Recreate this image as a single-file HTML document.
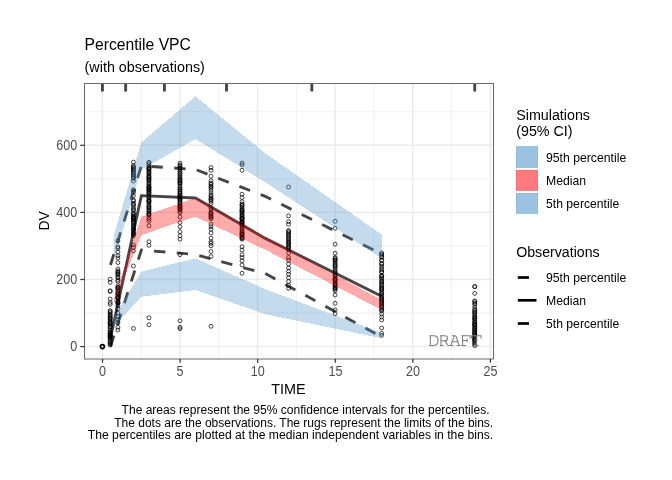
<!DOCTYPE html>
<html><head><meta charset="utf-8"><title>Percentile VPC</title>
<style>
html,body{margin:0;padding:0;background:#fff;}
body{width:672px;height:480px;overflow:hidden;position:relative;font-family:"Liberation Sans",sans-serif;}
</style></head><body>
<svg width="672" height="480" viewBox="0 0 672 480" style="position:absolute;left:0;top:0;will-change:transform;font-family:'Liberation Sans',sans-serif">
<rect x="0" y="0" width="672" height="480" fill="#fff"/>
<g shape-rendering="auto">
<rect x="84.5" y="83.5" width="409" height="275" fill="#fff"/>
<line x1="141.19" x2="141.19" y1="83.5" y2="358.5" stroke="#ebebeb" stroke-width="0.75"/>
<line x1="218.75" x2="218.75" y1="83.5" y2="358.5" stroke="#ebebeb" stroke-width="0.75"/>
<line x1="296.32" x2="296.32" y1="83.5" y2="358.5" stroke="#ebebeb" stroke-width="0.75"/>
<line x1="373.89" x2="373.89" y1="83.5" y2="358.5" stroke="#ebebeb" stroke-width="0.75"/>
<line x1="451.47" x2="451.47" y1="83.5" y2="358.5" stroke="#ebebeb" stroke-width="0.75"/>
<line x1="84.5" x2="493.5" y1="313.05" y2="313.05" stroke="#ebebeb" stroke-width="0.75"/>
<line x1="84.5" x2="493.5" y1="245.95" y2="245.95" stroke="#ebebeb" stroke-width="0.75"/>
<line x1="84.5" x2="493.5" y1="178.85" y2="178.85" stroke="#ebebeb" stroke-width="0.75"/>
<line x1="84.5" x2="493.5" y1="111.75" y2="111.75" stroke="#ebebeb" stroke-width="0.75"/>
<line x1="102.40" x2="102.40" y1="83.5" y2="358.5" stroke="#ebebeb" stroke-width="1.4"/>
<line x1="179.97" x2="179.97" y1="83.5" y2="358.5" stroke="#ebebeb" stroke-width="1.4"/>
<line x1="257.54" x2="257.54" y1="83.5" y2="358.5" stroke="#ebebeb" stroke-width="1.4"/>
<line x1="335.11" x2="335.11" y1="83.5" y2="358.5" stroke="#ebebeb" stroke-width="1.4"/>
<line x1="412.68" x2="412.68" y1="83.5" y2="358.5" stroke="#ebebeb" stroke-width="1.4"/>
<line x1="490.25" x2="490.25" y1="83.5" y2="358.5" stroke="#ebebeb" stroke-width="1.4"/>
<line x1="84.5" x2="493.5" y1="346.60" y2="346.60" stroke="#ebebeb" stroke-width="1.4"/>
<line x1="84.5" x2="493.5" y1="279.50" y2="279.50" stroke="#ebebeb" stroke-width="1.4"/>
<line x1="84.5" x2="493.5" y1="212.40" y2="212.40" stroke="#ebebeb" stroke-width="1.4"/>
<line x1="84.5" x2="493.5" y1="145.30" y2="145.30" stroke="#ebebeb" stroke-width="1.4"/>
</g>
<clipPath id="cp"><rect x="84.5" y="83.5" width="409" height="275"/></clipPath>
<g clip-path="url(#cp)">
<g fill="none" stroke="#000" stroke-opacity="0.85" stroke-width="0.85">
<circle cx="102.40" cy="346.60" r="1.95"/>
<circle cx="110.16" cy="279.25" r="1.95"/>
<circle cx="110.16" cy="282.40" r="1.95"/>
<circle cx="110.16" cy="290.75" r="1.95"/>
<circle cx="110.16" cy="291.50" r="1.95"/>
<circle cx="110.16" cy="299.00" r="1.95"/>
<circle cx="110.16" cy="302.50" r="1.95"/>
<circle cx="110.16" cy="304.40" r="1.95"/>
<circle cx="110.16" cy="310.60" r="1.95"/>
<circle cx="110.16" cy="311.58" r="1.95"/>
<circle cx="110.16" cy="312.72" r="1.95"/>
<circle cx="110.16" cy="314.39" r="1.95"/>
<circle cx="110.16" cy="315.39" r="1.95"/>
<circle cx="110.16" cy="316.45" r="1.95"/>
<circle cx="110.16" cy="317.63" r="1.95"/>
<circle cx="110.16" cy="318.22" r="1.95"/>
<circle cx="110.16" cy="319.28" r="1.95"/>
<circle cx="110.16" cy="320.53" r="1.95"/>
<circle cx="110.16" cy="322.01" r="1.95"/>
<circle cx="110.16" cy="322.46" r="1.95"/>
<circle cx="110.16" cy="323.22" r="1.95"/>
<circle cx="110.16" cy="323.67" r="1.95"/>
<circle cx="110.16" cy="325.17" r="1.95"/>
<circle cx="110.16" cy="326.51" r="1.95"/>
<circle cx="110.16" cy="326.89" r="1.95"/>
<circle cx="110.16" cy="328.64" r="1.95"/>
<circle cx="110.16" cy="330.38" r="1.95"/>
<circle cx="110.16" cy="331.65" r="1.95"/>
<circle cx="110.16" cy="332.87" r="1.95"/>
<circle cx="110.16" cy="333.42" r="1.95"/>
<circle cx="110.16" cy="333.76" r="1.95"/>
<circle cx="110.16" cy="334.85" r="1.95"/>
<circle cx="110.16" cy="335.25" r="1.95"/>
<circle cx="110.16" cy="335.85" r="1.95"/>
<circle cx="110.16" cy="336.52" r="1.95"/>
<circle cx="110.16" cy="336.88" r="1.95"/>
<circle cx="110.16" cy="337.87" r="1.95"/>
<circle cx="110.16" cy="338.84" r="1.95"/>
<circle cx="110.16" cy="340.39" r="1.95"/>
<circle cx="110.16" cy="341.47" r="1.95"/>
<circle cx="110.16" cy="342.72" r="1.95"/>
<circle cx="110.16" cy="343.77" r="1.95"/>
<circle cx="110.16" cy="345.06" r="1.95"/>
<circle cx="117.91" cy="240.75" r="1.95"/>
<circle cx="117.91" cy="246.75" r="1.95"/>
<circle cx="117.91" cy="248.27" r="1.95"/>
<circle cx="117.91" cy="252.00" r="1.95"/>
<circle cx="117.91" cy="255.73" r="1.95"/>
<circle cx="117.91" cy="258.00" r="1.95"/>
<circle cx="117.91" cy="262.60" r="1.95"/>
<circle cx="117.91" cy="268.90" r="1.95"/>
<circle cx="117.91" cy="270.84" r="1.95"/>
<circle cx="117.91" cy="271.95" r="1.95"/>
<circle cx="117.91" cy="272.88" r="1.95"/>
<circle cx="117.91" cy="273.94" r="1.95"/>
<circle cx="117.91" cy="274.54" r="1.95"/>
<circle cx="117.91" cy="276.59" r="1.95"/>
<circle cx="117.91" cy="277.89" r="1.95"/>
<circle cx="117.91" cy="280.11" r="1.95"/>
<circle cx="117.91" cy="281.37" r="1.95"/>
<circle cx="117.91" cy="285.75" r="1.95"/>
<circle cx="117.91" cy="287.31" r="1.95"/>
<circle cx="117.91" cy="287.63" r="1.95"/>
<circle cx="117.91" cy="288.25" r="1.95"/>
<circle cx="117.91" cy="289.90" r="1.95"/>
<circle cx="117.91" cy="290.91" r="1.95"/>
<circle cx="117.91" cy="292.66" r="1.95"/>
<circle cx="117.91" cy="293.56" r="1.95"/>
<circle cx="117.91" cy="293.99" r="1.95"/>
<circle cx="117.91" cy="295.23" r="1.95"/>
<circle cx="117.91" cy="296.69" r="1.95"/>
<circle cx="117.91" cy="297.40" r="1.95"/>
<circle cx="117.91" cy="297.84" r="1.95"/>
<circle cx="117.91" cy="298.64" r="1.95"/>
<circle cx="117.91" cy="300.38" r="1.95"/>
<circle cx="117.91" cy="301.81" r="1.95"/>
<circle cx="117.91" cy="302.29" r="1.95"/>
<circle cx="117.91" cy="302.97" r="1.95"/>
<circle cx="117.91" cy="303.44" r="1.95"/>
<circle cx="117.91" cy="305.60" r="1.95"/>
<circle cx="117.91" cy="308.75" r="1.95"/>
<circle cx="117.91" cy="313.00" r="1.95"/>
<circle cx="117.91" cy="316.50" r="1.95"/>
<circle cx="117.91" cy="319.50" r="1.95"/>
<circle cx="117.91" cy="322.75" r="1.95"/>
<circle cx="117.91" cy="327.25" r="1.95"/>
<circle cx="117.91" cy="330.00" r="1.95"/>
<circle cx="133.43" cy="162.10" r="1.95"/>
<circle cx="133.43" cy="165.50" r="1.95"/>
<circle cx="133.43" cy="166.99" r="1.95"/>
<circle cx="133.43" cy="167.56" r="1.95"/>
<circle cx="133.43" cy="168.70" r="1.95"/>
<circle cx="133.43" cy="169.67" r="1.95"/>
<circle cx="133.43" cy="170.27" r="1.95"/>
<circle cx="133.43" cy="172.00" r="1.95"/>
<circle cx="133.43" cy="172.73" r="1.95"/>
<circle cx="133.43" cy="174.53" r="1.95"/>
<circle cx="133.43" cy="175.22" r="1.95"/>
<circle cx="133.43" cy="176.56" r="1.95"/>
<circle cx="133.43" cy="177.45" r="1.95"/>
<circle cx="133.43" cy="178.47" r="1.95"/>
<circle cx="133.43" cy="180.96" r="1.95"/>
<circle cx="133.43" cy="189.90" r="1.95"/>
<circle cx="133.43" cy="190.50" r="1.95"/>
<circle cx="133.43" cy="192.50" r="1.95"/>
<circle cx="133.43" cy="195.80" r="1.95"/>
<circle cx="133.43" cy="200.00" r="1.95"/>
<circle cx="133.43" cy="201.09" r="1.95"/>
<circle cx="133.43" cy="203.40" r="1.95"/>
<circle cx="133.43" cy="204.29" r="1.95"/>
<circle cx="133.43" cy="205.57" r="1.95"/>
<circle cx="133.43" cy="207.81" r="1.95"/>
<circle cx="133.43" cy="209.61" r="1.95"/>
<circle cx="133.43" cy="210.27" r="1.95"/>
<circle cx="133.43" cy="212.80" r="1.95"/>
<circle cx="133.43" cy="213.70" r="1.95"/>
<circle cx="133.43" cy="214.69" r="1.95"/>
<circle cx="133.43" cy="216.00" r="1.95"/>
<circle cx="133.43" cy="216.80" r="1.95"/>
<circle cx="133.43" cy="217.55" r="1.95"/>
<circle cx="133.43" cy="217.97" r="1.95"/>
<circle cx="133.43" cy="218.42" r="1.95"/>
<circle cx="133.43" cy="219.59" r="1.95"/>
<circle cx="133.43" cy="220.26" r="1.95"/>
<circle cx="133.43" cy="221.46" r="1.95"/>
<circle cx="133.43" cy="222.32" r="1.95"/>
<circle cx="133.43" cy="223.30" r="1.95"/>
<circle cx="133.43" cy="225.03" r="1.95"/>
<circle cx="133.43" cy="226.06" r="1.95"/>
<circle cx="133.43" cy="227.22" r="1.95"/>
<circle cx="133.43" cy="228.80" r="1.95"/>
<circle cx="133.43" cy="229.39" r="1.95"/>
<circle cx="133.43" cy="229.93" r="1.95"/>
<circle cx="133.43" cy="231.58" r="1.95"/>
<circle cx="133.43" cy="233.10" r="1.95"/>
<circle cx="133.43" cy="233.78" r="1.95"/>
<circle cx="133.43" cy="234.37" r="1.95"/>
<circle cx="133.43" cy="235.77" r="1.95"/>
<circle cx="133.43" cy="245.00" r="1.95"/>
<circle cx="133.43" cy="247.50" r="1.95"/>
<circle cx="133.43" cy="250.80" r="1.95"/>
<circle cx="133.43" cy="266.00" r="1.95"/>
<circle cx="133.43" cy="328.50" r="1.95"/>
<circle cx="148.94" cy="162.30" r="1.95"/>
<circle cx="148.94" cy="162.90" r="1.95"/>
<circle cx="148.94" cy="164.62" r="1.95"/>
<circle cx="148.94" cy="166.23" r="1.95"/>
<circle cx="148.94" cy="167.43" r="1.95"/>
<circle cx="148.94" cy="168.36" r="1.95"/>
<circle cx="148.94" cy="168.83" r="1.95"/>
<circle cx="148.94" cy="169.20" r="1.95"/>
<circle cx="148.94" cy="170.93" r="1.95"/>
<circle cx="148.94" cy="171.60" r="1.95"/>
<circle cx="148.94" cy="172.95" r="1.95"/>
<circle cx="148.94" cy="173.64" r="1.95"/>
<circle cx="148.94" cy="175.17" r="1.95"/>
<circle cx="148.94" cy="176.36" r="1.95"/>
<circle cx="148.94" cy="177.11" r="1.95"/>
<circle cx="148.94" cy="177.68" r="1.95"/>
<circle cx="148.94" cy="179.05" r="1.95"/>
<circle cx="148.94" cy="179.47" r="1.95"/>
<circle cx="148.94" cy="180.12" r="1.95"/>
<circle cx="148.94" cy="181.26" r="1.95"/>
<circle cx="148.94" cy="182.83" r="1.95"/>
<circle cx="148.94" cy="184.04" r="1.95"/>
<circle cx="148.94" cy="184.77" r="1.95"/>
<circle cx="148.94" cy="186.43" r="1.95"/>
<circle cx="148.94" cy="187.05" r="1.95"/>
<circle cx="148.94" cy="187.39" r="1.95"/>
<circle cx="148.94" cy="188.10" r="1.95"/>
<circle cx="148.94" cy="189.07" r="1.95"/>
<circle cx="148.94" cy="189.47" r="1.95"/>
<circle cx="148.94" cy="190.05" r="1.95"/>
<circle cx="148.94" cy="190.90" r="1.95"/>
<circle cx="148.94" cy="192.06" r="1.95"/>
<circle cx="148.94" cy="192.57" r="1.95"/>
<circle cx="148.94" cy="193.42" r="1.95"/>
<circle cx="148.94" cy="195.04" r="1.95"/>
<circle cx="148.94" cy="196.80" r="1.95"/>
<circle cx="148.94" cy="198.08" r="1.95"/>
<circle cx="148.94" cy="199.41" r="1.95"/>
<circle cx="148.94" cy="200.58" r="1.95"/>
<circle cx="148.94" cy="201.10" r="1.95"/>
<circle cx="148.94" cy="201.47" r="1.95"/>
<circle cx="148.94" cy="201.81" r="1.95"/>
<circle cx="148.94" cy="203.47" r="1.95"/>
<circle cx="148.94" cy="204.81" r="1.95"/>
<circle cx="148.94" cy="206.54" r="1.95"/>
<circle cx="148.94" cy="206.89" r="1.95"/>
<circle cx="148.94" cy="208.14" r="1.95"/>
<circle cx="148.94" cy="209.16" r="1.95"/>
<circle cx="148.94" cy="210.55" r="1.95"/>
<circle cx="148.94" cy="211.33" r="1.95"/>
<circle cx="148.94" cy="213.12" r="1.95"/>
<circle cx="148.94" cy="213.54" r="1.95"/>
<circle cx="148.94" cy="214.66" r="1.95"/>
<circle cx="148.94" cy="215.00" r="1.95"/>
<circle cx="148.94" cy="217.34" r="1.95"/>
<circle cx="148.94" cy="219.34" r="1.95"/>
<circle cx="148.94" cy="221.27" r="1.95"/>
<circle cx="148.94" cy="225.80" r="1.95"/>
<circle cx="148.94" cy="241.70" r="1.95"/>
<circle cx="148.94" cy="245.30" r="1.95"/>
<circle cx="148.94" cy="317.75" r="1.95"/>
<circle cx="148.94" cy="324.75" r="1.95"/>
<circle cx="179.97" cy="163.20" r="1.95"/>
<circle cx="179.97" cy="164.90" r="1.95"/>
<circle cx="179.97" cy="166.00" r="1.95"/>
<circle cx="179.97" cy="167.66" r="1.95"/>
<circle cx="179.97" cy="168.49" r="1.95"/>
<circle cx="179.97" cy="169.81" r="1.95"/>
<circle cx="179.97" cy="171.45" r="1.95"/>
<circle cx="179.97" cy="173.05" r="1.95"/>
<circle cx="179.97" cy="173.98" r="1.95"/>
<circle cx="179.97" cy="175.45" r="1.95"/>
<circle cx="179.97" cy="177.04" r="1.95"/>
<circle cx="179.97" cy="178.20" r="1.95"/>
<circle cx="179.97" cy="179.43" r="1.95"/>
<circle cx="179.97" cy="180.31" r="1.95"/>
<circle cx="179.97" cy="181.48" r="1.95"/>
<circle cx="179.97" cy="182.69" r="1.95"/>
<circle cx="179.97" cy="183.12" r="1.95"/>
<circle cx="179.97" cy="184.38" r="1.95"/>
<circle cx="179.97" cy="186.15" r="1.95"/>
<circle cx="179.97" cy="187.76" r="1.95"/>
<circle cx="179.97" cy="189.14" r="1.95"/>
<circle cx="179.97" cy="190.03" r="1.95"/>
<circle cx="179.97" cy="191.43" r="1.95"/>
<circle cx="179.97" cy="192.60" r="1.95"/>
<circle cx="179.97" cy="193.56" r="1.95"/>
<circle cx="179.97" cy="195.11" r="1.95"/>
<circle cx="179.97" cy="195.54" r="1.95"/>
<circle cx="179.97" cy="196.96" r="1.95"/>
<circle cx="179.97" cy="197.32" r="1.95"/>
<circle cx="179.97" cy="198.52" r="1.95"/>
<circle cx="179.97" cy="199.54" r="1.95"/>
<circle cx="179.97" cy="200.19" r="1.95"/>
<circle cx="179.97" cy="201.54" r="1.95"/>
<circle cx="179.97" cy="202.58" r="1.95"/>
<circle cx="179.97" cy="203.80" r="1.95"/>
<circle cx="179.97" cy="205.47" r="1.95"/>
<circle cx="179.97" cy="206.16" r="1.95"/>
<circle cx="179.97" cy="206.49" r="1.95"/>
<circle cx="179.97" cy="207.25" r="1.95"/>
<circle cx="179.97" cy="208.56" r="1.95"/>
<circle cx="179.97" cy="209.17" r="1.95"/>
<circle cx="179.97" cy="209.74" r="1.95"/>
<circle cx="179.97" cy="211.38" r="1.95"/>
<circle cx="179.97" cy="212.67" r="1.95"/>
<circle cx="179.97" cy="217.00" r="1.95"/>
<circle cx="179.97" cy="222.50" r="1.95"/>
<circle cx="179.97" cy="226.70" r="1.95"/>
<circle cx="179.97" cy="231.70" r="1.95"/>
<circle cx="179.97" cy="235.80" r="1.95"/>
<circle cx="179.97" cy="239.20" r="1.95"/>
<circle cx="179.97" cy="254.70" r="1.95"/>
<circle cx="179.97" cy="320.80" r="1.95"/>
<circle cx="179.97" cy="327.20" r="1.95"/>
<circle cx="179.97" cy="328.70" r="1.95"/>
<circle cx="211.00" cy="167.50" r="1.95"/>
<circle cx="211.00" cy="170.30" r="1.95"/>
<circle cx="211.00" cy="176.20" r="1.95"/>
<circle cx="211.00" cy="180.80" r="1.95"/>
<circle cx="211.00" cy="183.12" r="1.95"/>
<circle cx="211.00" cy="184.26" r="1.95"/>
<circle cx="211.00" cy="186.11" r="1.95"/>
<circle cx="211.00" cy="186.97" r="1.95"/>
<circle cx="211.00" cy="188.33" r="1.95"/>
<circle cx="211.00" cy="190.47" r="1.95"/>
<circle cx="211.00" cy="192.84" r="1.95"/>
<circle cx="211.00" cy="195.14" r="1.95"/>
<circle cx="211.00" cy="196.40" r="1.95"/>
<circle cx="211.00" cy="198.07" r="1.95"/>
<circle cx="211.00" cy="199.19" r="1.95"/>
<circle cx="211.00" cy="199.92" r="1.95"/>
<circle cx="211.00" cy="201.42" r="1.95"/>
<circle cx="211.00" cy="203.62" r="1.95"/>
<circle cx="211.00" cy="208.00" r="1.95"/>
<circle cx="211.00" cy="209.94" r="1.95"/>
<circle cx="211.00" cy="212.39" r="1.95"/>
<circle cx="211.00" cy="213.42" r="1.95"/>
<circle cx="211.00" cy="214.22" r="1.95"/>
<circle cx="211.00" cy="215.62" r="1.95"/>
<circle cx="211.00" cy="216.65" r="1.95"/>
<circle cx="211.00" cy="217.55" r="1.95"/>
<circle cx="211.00" cy="218.87" r="1.95"/>
<circle cx="211.00" cy="224.20" r="1.95"/>
<circle cx="211.00" cy="226.70" r="1.95"/>
<circle cx="211.00" cy="229.20" r="1.95"/>
<circle cx="211.00" cy="233.00" r="1.95"/>
<circle cx="211.00" cy="238.20" r="1.95"/>
<circle cx="211.00" cy="241.70" r="1.95"/>
<circle cx="211.00" cy="243.30" r="1.95"/>
<circle cx="211.00" cy="245.80" r="1.95"/>
<circle cx="211.00" cy="251.50" r="1.95"/>
<circle cx="211.00" cy="256.50" r="1.95"/>
<circle cx="211.00" cy="326.30" r="1.95"/>
<circle cx="242.03" cy="163.00" r="1.95"/>
<circle cx="242.03" cy="164.70" r="1.95"/>
<circle cx="242.03" cy="170.30" r="1.95"/>
<circle cx="242.03" cy="194.20" r="1.95"/>
<circle cx="242.03" cy="197.50" r="1.95"/>
<circle cx="242.03" cy="201.70" r="1.95"/>
<circle cx="242.03" cy="204.00" r="1.95"/>
<circle cx="242.03" cy="205.04" r="1.95"/>
<circle cx="242.03" cy="205.82" r="1.95"/>
<circle cx="242.03" cy="207.37" r="1.95"/>
<circle cx="242.03" cy="209.13" r="1.95"/>
<circle cx="242.03" cy="210.11" r="1.95"/>
<circle cx="242.03" cy="210.53" r="1.95"/>
<circle cx="242.03" cy="210.89" r="1.95"/>
<circle cx="242.03" cy="212.49" r="1.95"/>
<circle cx="242.03" cy="212.87" r="1.95"/>
<circle cx="242.03" cy="214.22" r="1.95"/>
<circle cx="242.03" cy="215.38" r="1.95"/>
<circle cx="242.03" cy="216.15" r="1.95"/>
<circle cx="242.03" cy="217.63" r="1.95"/>
<circle cx="242.03" cy="217.97" r="1.95"/>
<circle cx="242.03" cy="218.48" r="1.95"/>
<circle cx="242.03" cy="219.47" r="1.95"/>
<circle cx="242.03" cy="219.82" r="1.95"/>
<circle cx="242.03" cy="221.35" r="1.95"/>
<circle cx="242.03" cy="222.02" r="1.95"/>
<circle cx="242.03" cy="222.54" r="1.95"/>
<circle cx="242.03" cy="222.92" r="1.95"/>
<circle cx="242.03" cy="224.16" r="1.95"/>
<circle cx="242.03" cy="225.13" r="1.95"/>
<circle cx="242.03" cy="226.37" r="1.95"/>
<circle cx="242.03" cy="227.65" r="1.95"/>
<circle cx="242.03" cy="229.15" r="1.95"/>
<circle cx="242.03" cy="230.88" r="1.95"/>
<circle cx="242.03" cy="232.20" r="1.95"/>
<circle cx="242.03" cy="232.81" r="1.95"/>
<circle cx="242.03" cy="233.82" r="1.95"/>
<circle cx="242.03" cy="234.40" r="1.95"/>
<circle cx="242.03" cy="234.73" r="1.95"/>
<circle cx="242.03" cy="235.74" r="1.95"/>
<circle cx="242.03" cy="237.10" r="1.95"/>
<circle cx="242.03" cy="237.68" r="1.95"/>
<circle cx="242.03" cy="238.40" r="1.95"/>
<circle cx="242.03" cy="239.22" r="1.95"/>
<circle cx="242.03" cy="246.70" r="1.95"/>
<circle cx="242.03" cy="250.00" r="1.95"/>
<circle cx="242.03" cy="254.70" r="1.95"/>
<circle cx="242.03" cy="257.50" r="1.95"/>
<circle cx="242.03" cy="260.80" r="1.95"/>
<circle cx="242.03" cy="265.00" r="1.95"/>
<circle cx="242.03" cy="273.30" r="1.95"/>
<circle cx="288.57" cy="187.00" r="1.95"/>
<circle cx="288.57" cy="215.90" r="1.95"/>
<circle cx="288.57" cy="221.70" r="1.95"/>
<circle cx="288.57" cy="224.20" r="1.95"/>
<circle cx="288.57" cy="230.50" r="1.95"/>
<circle cx="288.57" cy="231.58" r="1.95"/>
<circle cx="288.57" cy="232.80" r="1.95"/>
<circle cx="288.57" cy="234.22" r="1.95"/>
<circle cx="288.57" cy="235.12" r="1.95"/>
<circle cx="288.57" cy="236.60" r="1.95"/>
<circle cx="288.57" cy="238.24" r="1.95"/>
<circle cx="288.57" cy="238.69" r="1.95"/>
<circle cx="288.57" cy="240.37" r="1.95"/>
<circle cx="288.57" cy="241.75" r="1.95"/>
<circle cx="288.57" cy="242.26" r="1.95"/>
<circle cx="288.57" cy="243.24" r="1.95"/>
<circle cx="288.57" cy="244.47" r="1.95"/>
<circle cx="288.57" cy="246.13" r="1.95"/>
<circle cx="288.57" cy="246.99" r="1.95"/>
<circle cx="288.57" cy="248.15" r="1.95"/>
<circle cx="288.57" cy="249.75" r="1.95"/>
<circle cx="288.57" cy="253.00" r="1.95"/>
<circle cx="288.57" cy="257.50" r="1.95"/>
<circle cx="288.57" cy="260.00" r="1.95"/>
<circle cx="288.57" cy="264.00" r="1.95"/>
<circle cx="288.57" cy="267.80" r="1.95"/>
<circle cx="288.57" cy="271.30" r="1.95"/>
<circle cx="288.57" cy="274.20" r="1.95"/>
<circle cx="288.57" cy="277.70" r="1.95"/>
<circle cx="288.57" cy="281.50" r="1.95"/>
<circle cx="288.57" cy="285.30" r="1.95"/>
<circle cx="288.57" cy="288.30" r="1.95"/>
<circle cx="335.11" cy="221.30" r="1.95"/>
<circle cx="335.11" cy="228.30" r="1.95"/>
<circle cx="335.11" cy="244.20" r="1.95"/>
<circle cx="335.11" cy="253.30" r="1.95"/>
<circle cx="335.11" cy="257.50" r="1.95"/>
<circle cx="335.11" cy="258.50" r="1.95"/>
<circle cx="335.11" cy="259.77" r="1.95"/>
<circle cx="335.11" cy="260.39" r="1.95"/>
<circle cx="335.11" cy="261.76" r="1.95"/>
<circle cx="335.11" cy="263.28" r="1.95"/>
<circle cx="335.11" cy="264.54" r="1.95"/>
<circle cx="335.11" cy="265.91" r="1.95"/>
<circle cx="335.11" cy="266.54" r="1.95"/>
<circle cx="335.11" cy="268.17" r="1.95"/>
<circle cx="335.11" cy="269.93" r="1.95"/>
<circle cx="335.11" cy="271.68" r="1.95"/>
<circle cx="335.11" cy="272.79" r="1.95"/>
<circle cx="335.11" cy="274.26" r="1.95"/>
<circle cx="335.11" cy="275.05" r="1.95"/>
<circle cx="335.11" cy="276.70" r="1.95"/>
<circle cx="335.11" cy="278.28" r="1.95"/>
<circle cx="335.11" cy="279.10" r="1.95"/>
<circle cx="335.11" cy="279.54" r="1.95"/>
<circle cx="335.11" cy="280.50" r="1.95"/>
<circle cx="335.11" cy="281.63" r="1.95"/>
<circle cx="335.11" cy="283.07" r="1.95"/>
<circle cx="335.11" cy="284.10" r="1.95"/>
<circle cx="335.11" cy="284.46" r="1.95"/>
<circle cx="335.11" cy="285.96" r="1.95"/>
<circle cx="335.11" cy="286.37" r="1.95"/>
<circle cx="335.11" cy="287.86" r="1.95"/>
<circle cx="335.11" cy="288.43" r="1.95"/>
<circle cx="335.11" cy="289.24" r="1.95"/>
<circle cx="335.11" cy="290.71" r="1.95"/>
<circle cx="335.11" cy="295.00" r="1.95"/>
<circle cx="335.11" cy="303.30" r="1.95"/>
<circle cx="335.11" cy="310.00" r="1.95"/>
<circle cx="335.11" cy="313.70" r="1.95"/>
<circle cx="381.65" cy="253.00" r="1.95"/>
<circle cx="381.65" cy="256.70" r="1.95"/>
<circle cx="381.65" cy="260.30" r="1.95"/>
<circle cx="381.65" cy="264.20" r="1.95"/>
<circle cx="381.65" cy="268.30" r="1.95"/>
<circle cx="381.65" cy="272.00" r="1.95"/>
<circle cx="381.65" cy="275.80" r="1.95"/>
<circle cx="381.65" cy="279.20" r="1.95"/>
<circle cx="381.65" cy="254.00" r="1.95"/>
<circle cx="381.65" cy="255.12" r="1.95"/>
<circle cx="381.65" cy="257.37" r="1.95"/>
<circle cx="381.65" cy="260.26" r="1.95"/>
<circle cx="381.65" cy="263.50" r="1.95"/>
<circle cx="381.65" cy="266.29" r="1.95"/>
<circle cx="381.65" cy="269.86" r="1.95"/>
<circle cx="381.65" cy="272.04" r="1.95"/>
<circle cx="381.65" cy="275.62" r="1.95"/>
<circle cx="381.65" cy="276.55" r="1.95"/>
<circle cx="381.65" cy="277.89" r="1.95"/>
<circle cx="381.65" cy="281.00" r="1.95"/>
<circle cx="381.65" cy="281.74" r="1.95"/>
<circle cx="381.65" cy="283.13" r="1.95"/>
<circle cx="381.65" cy="284.38" r="1.95"/>
<circle cx="381.65" cy="285.47" r="1.95"/>
<circle cx="381.65" cy="287.02" r="1.95"/>
<circle cx="381.65" cy="288.16" r="1.95"/>
<circle cx="381.65" cy="288.93" r="1.95"/>
<circle cx="381.65" cy="289.81" r="1.95"/>
<circle cx="381.65" cy="291.36" r="1.95"/>
<circle cx="381.65" cy="293.00" r="1.95"/>
<circle cx="381.65" cy="293.62" r="1.95"/>
<circle cx="381.65" cy="295.19" r="1.95"/>
<circle cx="381.65" cy="296.93" r="1.95"/>
<circle cx="381.65" cy="298.01" r="1.95"/>
<circle cx="381.65" cy="299.17" r="1.95"/>
<circle cx="381.65" cy="299.78" r="1.95"/>
<circle cx="381.65" cy="300.89" r="1.95"/>
<circle cx="381.65" cy="301.94" r="1.95"/>
<circle cx="381.65" cy="303.14" r="1.95"/>
<circle cx="381.65" cy="303.50" r="1.95"/>
<circle cx="381.65" cy="305.24" r="1.95"/>
<circle cx="381.65" cy="306.31" r="1.95"/>
<circle cx="381.65" cy="307.22" r="1.95"/>
<circle cx="381.65" cy="308.71" r="1.95"/>
<circle cx="381.65" cy="309.85" r="1.95"/>
<circle cx="381.65" cy="310.89" r="1.95"/>
<circle cx="381.65" cy="314.00" r="1.95"/>
<circle cx="381.65" cy="317.00" r="1.95"/>
<circle cx="381.65" cy="320.00" r="1.95"/>
<circle cx="381.65" cy="328.00" r="1.95"/>
<circle cx="381.65" cy="333.30" r="1.95"/>
<circle cx="381.65" cy="335.30" r="1.95"/>
<circle cx="474.74" cy="286.50" r="1.95"/>
<circle cx="474.74" cy="286.70" r="1.95"/>
<circle cx="474.74" cy="293.40" r="1.95"/>
<circle cx="474.74" cy="301.00" r="1.95"/>
<circle cx="474.74" cy="301.59" r="1.95"/>
<circle cx="474.74" cy="303.17" r="1.95"/>
<circle cx="474.74" cy="304.49" r="1.95"/>
<circle cx="474.74" cy="306.95" r="1.95"/>
<circle cx="474.74" cy="309.34" r="1.95"/>
<circle cx="474.74" cy="310.35" r="1.95"/>
<circle cx="474.74" cy="311.80" r="1.95"/>
<circle cx="474.74" cy="312.51" r="1.95"/>
<circle cx="474.74" cy="313.87" r="1.95"/>
<circle cx="474.74" cy="315.00" r="1.95"/>
<circle cx="474.74" cy="316.64" r="1.95"/>
<circle cx="474.74" cy="317.65" r="1.95"/>
<circle cx="474.74" cy="318.44" r="1.95"/>
<circle cx="474.74" cy="319.03" r="1.95"/>
<circle cx="474.74" cy="320.26" r="1.95"/>
<circle cx="474.74" cy="321.93" r="1.95"/>
<circle cx="474.74" cy="322.44" r="1.95"/>
<circle cx="474.74" cy="323.90" r="1.95"/>
<circle cx="474.74" cy="324.24" r="1.95"/>
<circle cx="474.74" cy="324.85" r="1.95"/>
<circle cx="474.74" cy="325.49" r="1.95"/>
<circle cx="474.74" cy="326.82" r="1.95"/>
<circle cx="474.74" cy="327.61" r="1.95"/>
<circle cx="474.74" cy="328.45" r="1.95"/>
<circle cx="474.74" cy="329.67" r="1.95"/>
<circle cx="474.74" cy="330.14" r="1.95"/>
<circle cx="474.74" cy="331.53" r="1.95"/>
<circle cx="474.74" cy="332.03" r="1.95"/>
<circle cx="474.74" cy="333.09" r="1.95"/>
<circle cx="474.74" cy="333.77" r="1.95"/>
<circle cx="474.74" cy="334.38" r="1.95"/>
<circle cx="474.74" cy="335.47" r="1.95"/>
<circle cx="474.74" cy="336.43" r="1.95"/>
<circle cx="474.74" cy="337.30" r="1.95"/>
<circle cx="474.74" cy="338.22" r="1.95"/>
<circle cx="474.74" cy="339.31" r="1.95"/>
<circle cx="474.74" cy="339.86" r="1.95"/>
<circle cx="474.74" cy="340.48" r="1.95"/>
<circle cx="474.74" cy="341.72" r="1.95"/>
<circle cx="474.74" cy="342.98" r="1.95"/>
<circle cx="474.74" cy="344.07" r="1.95"/>
<circle cx="474.74" cy="345.64" r="1.95"/>
<circle cx="102.40" cy="346.60" r="2.0" stroke-width="1.6" stroke-opacity="1"/>
</g>
<polyline points="110.46,265.00 141.38,165.80 195.48,169.50 265.30,196.40 381.65,254.00" fill="none" stroke="#000" stroke-opacity="0.73" stroke-width="2.85" stroke-linejoin="round" stroke-linecap="butt" stroke-dasharray="11.4 11.4"/>
<polyline points="110.46,338.00 141.38,195.60 195.48,198.00 265.30,238.40 381.65,296.20" fill="none" stroke="#000" stroke-opacity="0.73" stroke-width="2.85" stroke-linejoin="round" stroke-linecap="butt"/>
<polyline points="110.46,346.50 141.38,250.00 195.48,254.50 265.30,273.50 381.65,337.00" fill="none" stroke="#000" stroke-opacity="0.73" stroke-width="2.85" stroke-linejoin="round" stroke-linecap="butt" stroke-dasharray="11.4 11.4"/>
<g shape-rendering="crispEdges">
<polygon points="114.04,235.00 141.19,142.50 195.48,96.30 265.30,153.30 381.65,234.50 381.65,258.30 265.30,182.30 195.48,139.00 141.19,169.80 114.04,259.00" fill="rgba(79,148,205,0.335)"/>
<polygon points="114.04,298.50 141.19,216.70 195.48,198.00 265.30,237.00 381.65,300.00 381.65,310.00 265.30,249.80 195.48,216.70 141.19,235.00 114.04,303.00" fill="rgba(255,0,0,0.33)"/>
<polygon points="114.04,317.50 141.19,271.70 195.48,258.30 265.30,289.20 381.65,333.00 381.65,338.30 265.30,314.20 195.48,290.00 141.19,296.70 114.04,326.70" fill="rgba(79,148,205,0.335)"/>
</g>
<line x1="102.40" x2="102.40" y1="83.5" y2="91.5" stroke="#000" stroke-opacity="0.73" stroke-width="2.85"/>
<line x1="125.67" x2="125.67" y1="83.5" y2="91.5" stroke="#000" stroke-opacity="0.73" stroke-width="2.85"/>
<line x1="164.46" x2="164.46" y1="83.5" y2="91.5" stroke="#000" stroke-opacity="0.73" stroke-width="2.85"/>
<line x1="226.51" x2="226.51" y1="83.5" y2="91.5" stroke="#000" stroke-opacity="0.73" stroke-width="2.85"/>
<line x1="311.84" x2="311.84" y1="83.5" y2="91.5" stroke="#000" stroke-opacity="0.73" stroke-width="2.85"/>
<line x1="474.74" x2="474.74" y1="83.5" y2="91.5" stroke="#000" stroke-opacity="0.73" stroke-width="2.85"/>
</g>
<path transform="translate(428.50,345.50) scale(0.01750,-0.01750)" d="M43,0 H300 C470,0 545,120 545,281 C545,442 470,562 300,562 H43 M105,0 V562" fill="none" stroke="#7c7c7c" stroke-width="1.05" stroke-linecap="butt" stroke-linejoin="miter" vector-effect="non-scaling-stroke"/>
<path transform="translate(439.14,345.50) scale(0.01750,-0.01750)" d="M43,0 H235 M105,0 V562 M43,562 H310 C420,562 480,500 480,418 C480,330 415,272 310,272 H105 M300,272 C360,250 400,190 440,100 C465,40 490,0 530,0 H590" fill="none" stroke="#7c7c7c" stroke-width="1.05" stroke-linecap="butt" stroke-linejoin="miter" vector-effect="non-scaling-stroke"/>
<path transform="translate(449.78,345.50) scale(0.01750,-0.01750)" d="M0,0 H205 M395,0 H600 M58,0 L262,562 M542,0 L338,562 M125,562 H338 M140,215 H460" fill="none" stroke="#7c7c7c" stroke-width="1.05" stroke-linecap="butt" stroke-linejoin="miter" vector-effect="non-scaling-stroke"/>
<path transform="translate(460.42,345.50) scale(0.01750,-0.01750)" d="M53,0 H330 M125,0 V562 M53,562 H545 V405 M125,290 H385 M385,190 V390" fill="none" stroke="#7c7c7c" stroke-width="1.05" stroke-linecap="butt" stroke-linejoin="miter" vector-effect="non-scaling-stroke"/>
<path transform="translate(471.06,345.50) scale(0.01750,-0.01750)" d="M160,0 H440 M300,0 V562 M30,405 V562 H570 V405" fill="none" stroke="#7c7c7c" stroke-width="1.05" stroke-linecap="butt" stroke-linejoin="miter" vector-effect="non-scaling-stroke"/>
<path d="M83.97,83.5 H494.03 M84.5,83.5 V359 M493.5,83.5 V359" fill="none" stroke="#6a6a6a" stroke-width="1.07"/>
<path d="M83.97,359 H494.03" fill="none" stroke="#6a6a6a" stroke-width="1.07"/>
<line x1="102.55" x2="102.55" y1="359" y2="362.7" stroke="#333" stroke-width="1.25"/>
<text x="102.40" y="375.8" font-size="15" fill="#4d4d4d" text-anchor="middle" textLength="7" lengthAdjust="spacingAndGlyphs">0</text>
<line x1="180.12" x2="180.12" y1="359" y2="362.7" stroke="#333" stroke-width="1.25"/>
<text x="179.97" y="375.8" font-size="15" fill="#4d4d4d" text-anchor="middle" textLength="7" lengthAdjust="spacingAndGlyphs">5</text>
<line x1="257.69" x2="257.69" y1="359" y2="362.7" stroke="#333" stroke-width="1.25"/>
<text x="257.84" y="375.8" font-size="15" fill="#4d4d4d" text-anchor="middle" textLength="14" lengthAdjust="spacingAndGlyphs">10</text>
<line x1="335.26" x2="335.26" y1="359" y2="362.7" stroke="#333" stroke-width="1.25"/>
<text x="335.41" y="375.8" font-size="15" fill="#4d4d4d" text-anchor="middle" textLength="14" lengthAdjust="spacingAndGlyphs">15</text>
<line x1="412.83" x2="412.83" y1="359" y2="362.7" stroke="#333" stroke-width="1.25"/>
<text x="412.98" y="375.8" font-size="15" fill="#4d4d4d" text-anchor="middle" textLength="14" lengthAdjust="spacingAndGlyphs">20</text>
<line x1="490.40" x2="490.40" y1="359" y2="362.7" stroke="#333" stroke-width="1.25"/>
<text x="490.55" y="375.8" font-size="15" fill="#4d4d4d" text-anchor="middle" textLength="14" lengthAdjust="spacingAndGlyphs">25</text>
<line x1="80.3" x2="84.5" y1="346.60" y2="346.60" stroke="#333" stroke-width="1.25"/>
<text x="77.3" y="351.30" font-size="15" fill="#4d4d4d" text-anchor="end" textLength="7" lengthAdjust="spacingAndGlyphs">0</text>
<line x1="80.3" x2="84.5" y1="279.50" y2="279.50" stroke="#333" stroke-width="1.25"/>
<text x="77.3" y="284.20" font-size="15" fill="#4d4d4d" text-anchor="end" textLength="21" lengthAdjust="spacingAndGlyphs">200</text>
<line x1="80.3" x2="84.5" y1="212.40" y2="212.40" stroke="#333" stroke-width="1.25"/>
<text x="77.3" y="217.10" font-size="15" fill="#4d4d4d" text-anchor="end" textLength="21" lengthAdjust="spacingAndGlyphs">400</text>
<line x1="80.3" x2="84.5" y1="145.30" y2="145.30" stroke="#333" stroke-width="1.25"/>
<text x="77.3" y="150.00" font-size="15" fill="#4d4d4d" text-anchor="end" textLength="21" lengthAdjust="spacingAndGlyphs">600</text>
<text x="288.5" y="394.0" font-size="15.4" fill="#000" text-anchor="middle" textLength="34.4" lengthAdjust="spacingAndGlyphs">TIME</text>
<text transform="translate(49.1,220.9) rotate(-90)" font-size="15.4" fill="#000" text-anchor="middle" textLength="19.3" lengthAdjust="spacingAndGlyphs">DV</text>
<text x="84.6" y="49.6" font-size="16" fill="#000" textLength="106.3" lengthAdjust="spacingAndGlyphs">Percentile VPC</text>
<text x="84.6" y="72.1" font-size="14.67" fill="#000" textLength="120.3" lengthAdjust="spacingAndGlyphs">(with observations)</text>
<text x="489.5" y="413.6" font-size="12" fill="#000" text-anchor="end" textLength="367.9" lengthAdjust="spacingAndGlyphs">The areas represent the 95% confidence intervals for the percentiles.</text>
<text x="493.2" y="426.5" font-size="12" fill="#000" text-anchor="end" textLength="378.9" lengthAdjust="spacingAndGlyphs">The dots are the observations. The rugs represent the limits of the bins.</text>
<text x="493.2" y="438.6" font-size="12" fill="#000" text-anchor="end" textLength="405.4" lengthAdjust="spacingAndGlyphs">The percentiles are plotted at the median independent variables in the bins.</text>
<text x="516.2" y="119.7" font-size="14.67" fill="#000" textLength="73.8" lengthAdjust="spacingAndGlyphs">Simulations</text>
<text x="516.2" y="135.5" font-size="14.67" fill="#000" textLength="56.4" lengthAdjust="spacingAndGlyphs">(95% CI)</text>
<rect x="516" y="146.2" width="22" height="21.6" fill="rgba(79,148,205,0.558)"/>
<rect x="516.4" y="146.6" width="21.2" height="20.8" fill="none" stroke="#2f6ea8" stroke-opacity="0.15" stroke-width="0.8"/>
<rect x="516" y="169.9" width="22" height="20.9" fill="rgba(255,0,8,0.52)"/>
<rect x="516.4" y="170.3" width="21.2" height="20.1" fill="none" stroke="#e02020" stroke-opacity="0.15" stroke-width="0.8"/>
<rect x="516" y="193" width="22" height="20.8" fill="rgba(79,148,205,0.558)"/>
<rect x="516.4" y="193.4" width="21.2" height="20" fill="none" stroke="#2f6ea8" stroke-opacity="0.15" stroke-width="0.8"/>
<text x="546" y="161.5" font-size="12.8" fill="#000" textLength="80.2" lengthAdjust="spacingAndGlyphs">95th percentile</text>
<text x="546" y="184.7" font-size="12.8" fill="#000" textLength="40" lengthAdjust="spacingAndGlyphs">Median</text>
<text x="546" y="207.7" font-size="12.8" fill="#000" textLength="73.2" lengthAdjust="spacingAndGlyphs">5th percentile</text>
<text x="516.2" y="256.5" font-size="14.67" fill="#000" textLength="83.5" lengthAdjust="spacingAndGlyphs">Observations</text>
<line x1="517.8" x2="529" y1="277.5" y2="277.5" stroke="#000" stroke-width="2.7"/>
<line x1="517.8" x2="536.5" y1="300.3" y2="300.3" stroke="#000" stroke-width="2.7"/>
<line x1="517.8" x2="529" y1="323.5" y2="323.5" stroke="#000" stroke-width="2.7"/>
<text x="546" y="281.5" font-size="12.8" fill="#000" textLength="80.2" lengthAdjust="spacingAndGlyphs">95th percentile</text>
<text x="546" y="304.5" font-size="12.8" fill="#000" textLength="40" lengthAdjust="spacingAndGlyphs">Median</text>
<text x="546" y="327.7" font-size="12.8" fill="#000" textLength="73.2" lengthAdjust="spacingAndGlyphs">5th percentile</text>
</svg>
</body></html>
